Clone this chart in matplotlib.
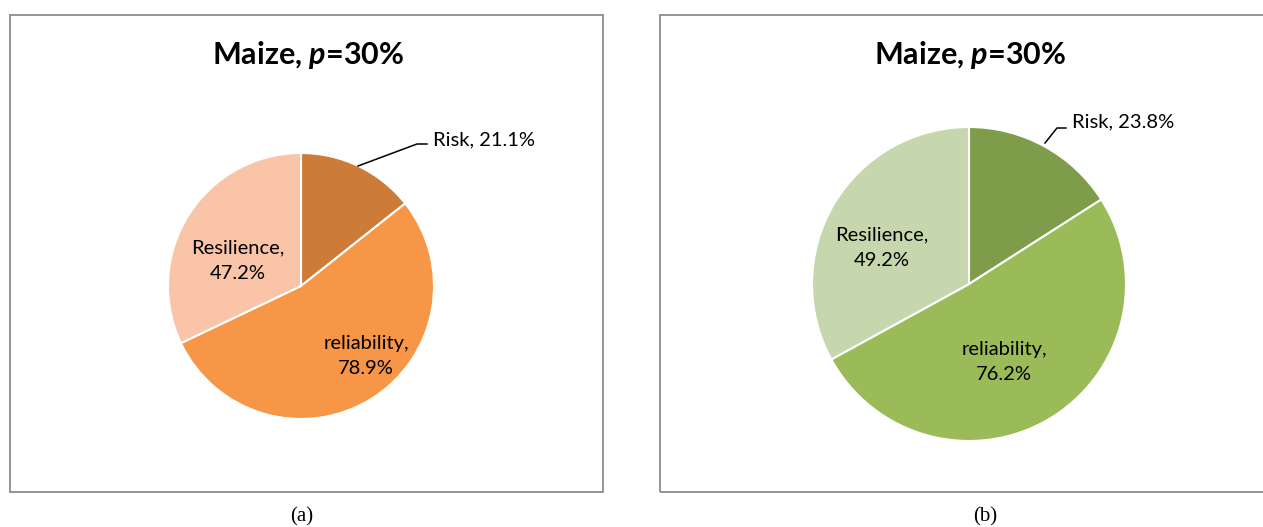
import matplotlib
matplotlib.use("Agg")
import matplotlib.pyplot as plt
from matplotlib.patches import Rectangle

# data
labels = ["Risk", "reliability", "Resilience"]
values_a = [21.1, 78.9, 47.2]
values_b = [23.8, 76.2, 49.2]
colors_a = ["#CC7B38", "#F79646", "#F9C4A8"]
colors_b = ["#7F9C4A", "#9BBB59", "#C6D7AE"]
title = r"Maize, $\mathit{p}$=30%"
captions = ["(a)", "(b)"]

plt.rcParams["font.family"] = ["Lato", "DejaVu Sans"]
plt.rcParams["mathtext.fontset"] = "custom"
plt.rcParams["mathtext.it"] = "Lato:bold:italic"
plt.rcParams["mathtext.rm"] = "Lato:bold"

W, H = 1263, 527
fig = plt.figure(figsize=(W / 100, H / 100), dpi=100)
ax = fig.add_axes([0, 0, 1, 1])


def Y(y):
    # pixel row from top -> data y
    return H - y


panels = [
    dict(box=(10, 15, 593, 477), center=(301, 286), r=133, vals=values_a, cols=colors_a,
         title_x=308, cap=(302, 517),
         risk_tip=(358, 166), risk_knee=(417, 144), risk_txt=(433, 140),
         rel_txt=(366, 356), res_txt=(238, 261)),
    dict(box=(660, 15, 640, 477), center=(969, 284), r=157, vals=values_b, cols=colors_b,
         title_x=970, cap=(985, 517),
         risk_tip=(1045, 143), risk_knee=(1057, 128), risk_txt=(1072, 122),
         rel_txt=(1004, 362), res_txt=(882, 248)),
]

for p in panels:
    bx, by, bw, bh = p["box"]
    ax.add_patch(Rectangle((bx, Y(by + bh)), bw, bh, fill=False,
                           edgecolor="#8C8C8C", linewidth=1.3, clip_on=False))
    cx, cy = p["center"]
    ax.pie(p["vals"], colors=p["cols"], startangle=90, counterclock=False,
           center=(cx, Y(cy)), radius=p["r"], frame=True,
           wedgeprops=dict(edgecolor="white", linewidth=1.5))

    ax.text(p["title_x"], Y(55), title, fontsize=22, fontweight="bold",
            ha="center", va="center")

    v = p["vals"]
    # Risk label with leader line
    ax.plot([p["risk_tip"][0], p["risk_knee"][0], p["risk_txt"][0] - 6],
            [Y(p["risk_tip"][1]), Y(p["risk_knee"][1]), Y(p["risk_knee"][1])],
            color="black", linewidth=1.1)
    ax.text(p["risk_txt"][0], Y(p["risk_txt"][1]), f"{labels[0]}, {v[0]}%",
            fontsize=14.5, ha="left", va="center")
    ax.text(p["rel_txt"][0], Y(p["rel_txt"][1]), f"{labels[1]},\n{v[1]}%",
            fontsize=14.5, ha="center", va="center", linespacing=1.6)
    ax.text(p["res_txt"][0], Y(p["res_txt"][1]), f"{labels[2]},\n{v[2]}%",
            fontsize=14.5, ha="center", va="center", linespacing=1.6)

for p, c in zip(panels, captions):
    ax.text(p["cap"][0], Y(p["cap"][1]), c, family="Liberation Serif",
            fontsize=15, ha="center", va="center")

ax.set_xlim(0, W)
ax.set_ylim(0, H)
ax.set_axis_off()

fig.savefig("out.png", dpi=100)
